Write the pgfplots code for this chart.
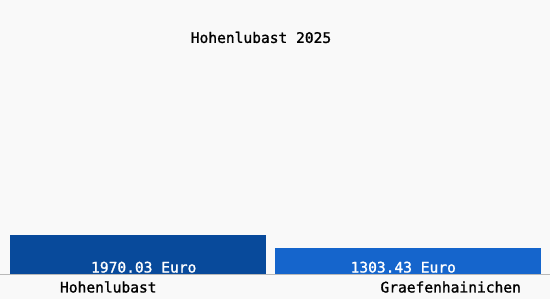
\documentclass[border=0pt]{standalone}
\usepackage{pgfplots}
\pgfplotsset{compat=1.18}
\usepackage{fontspec}
\newfontfamily\chartmono[FakeBold=1.2]{DejaVu Sans Mono}
\definecolor{bgc}{HTML}{F9F9F9}
\definecolor{barA}{HTML}{084A9B}
\definecolor{barB}{HTML}{1565CC}
\newcommand{\lbl}{\fontsize{14.6bp}{16bp}\selectfont\chartmono}
\begin{document}
\begin{tikzpicture}
\begin{axis}[
  scale only axis, width=550bp, height=300bp,
  xmin=0, xmax=550, ymin=-1231.27, ymax=13543.96,
  hide axis, clip=false,
  axis background/.style={fill=bgc},
]
\addplot[ybar, bar width=256, bar shift=0pt, fill=barA, draw=none] coordinates {(138,1970.03)};
\addplot[ybar, bar width=266, bar shift=0pt, fill=barB, draw=none] coordinates {(408,1303.43)};
\draw[gray!55, line width=1bp] (axis cs:0,0) -- (axis cs:550,0);
\node[anchor=base, font=\lbl] at (axis description cs:0.4745,0.8567) {Hohenlubast 2025};
\node[anchor=base, font=\lbl, text=white] at (axis description cs:0.2609,0.09) {1970.03 Euro};
\node[anchor=base, font=\lbl, text=white] at (axis description cs:0.7336,0.09) {1303.43 Euro};
\node[anchor=base, font=\lbl] at (axis description cs:0.1964,0.0233) {Hohenlubast};
\node[anchor=base, font=\lbl] at (axis description cs:0.82,0.0233) {Graefenhainichen};
\end{axis}
\end{tikzpicture}
\end{document}
